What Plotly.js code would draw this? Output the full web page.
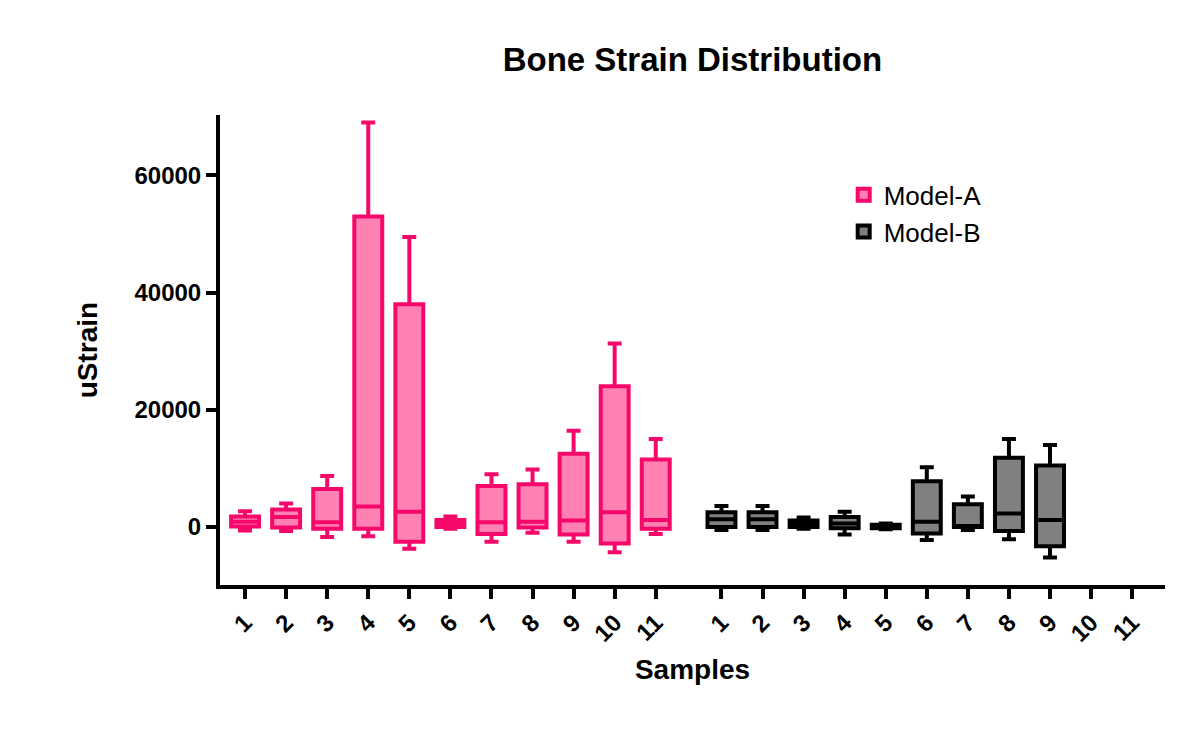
<!DOCTYPE html>
<html>
<head>
<script src="https://cdn.plot.ly/plotly-3.0.1.min.js"></script>
</head>
<body style="margin:0">
<div id="myDiv" style="width:1200px;height:735px;"></div>
<script>
var samples = ['1','2','3','4','5','6','7','8','9','10','11'];

var aLower  = [-600, -700, -1700, -1600, -3700, -300, -2500, -1000, -2500, -4300, -1200];
var aQ1     = [100, -100, -300, -300, -2500, 0, -1200, -100, -1300, -2800, -300];
var aMedian = [900, 1700, 800, 3500, 2600, 700, 800, 900, 1100, 2500, 1200];
var aQ3     = [1800, 3000, 6500, 53000, 38000, 1200, 7000, 7300, 12500, 24000, 11500];
var aUpper  = [2700, 4000, 8700, 69000, 49500, 1800, 9000, 9800, 16400, 31300, 15000];

var bLower  = [-500, -500, -300, -1300, -400, -2200, -500, -2100, -5200];
var bQ1     = [0, 0, 0, -200, -200, -1100, 0, -700, -3300];
var bMedian = [1300, 1300, 600, 600, 0, 900, 0, 2300, 1200];
var bQ3     = [2500, 2500, 1100, 1700, 400, 7800, 3900, 11800, 10500];
var bUpper  = [3600, 3600, 1600, 2600, 600, 10200, 5200, 15000, 14000];

var offsetB = 11.6;
var xA = samples.map(function (s, i) { return i + 1; });
var xB = bQ1.map(function (v, i) { return i + 1 + offsetB; });
var tickPos = xA.concat(samples.map(function (s, i) { return i + 1 + offsetB; }));
var tickText = samples.concat(samples);

var modelA = {
  type: 'box', name: 'Model-A', x: xA,
  lowerfence: aLower, q1: aQ1, median: aMedian, q3: aQ3, upperfence: aUpper,
  width: 0.68, whiskerwidth: 0.5,
  fillcolor: '#ff80b3', line: { color: '#f5086a', width: 4 }
};
var modelB = {
  type: 'box', name: 'Model-B', x: xB,
  lowerfence: bLower, q1: bQ1, median: bMedian, q3: bQ3, upperfence: bUpper,
  width: 0.68, whiskerwidth: 0.5,
  fillcolor: '#808080', line: { color: '#000000', width: 4 }
};

var layout = {
  paper_bgcolor: 'white', plot_bgcolor: 'white',
  margin: { l: 220, r: 35, t: 115, b: 150 },
  font: { family: 'Arial, Liberation Sans, sans-serif', color: '#000' },
  title: {
    text: '<b>Bone Strain Distribution</b>',
    font: { size: 33 }, x: 0.577, xanchor: 'center', y: 0.935
  },
  showlegend: true,
  legend: { x: 0.66, y: 0.88, font: { size: 26 }, bgcolor: 'rgba(0,0,0,0)', tracegroupgap: 25 },
  xaxis: {
    range: [0.39, 23.4], tickvals: tickPos, ticktext: tickText, tickangle: -45,
    showline: true, linewidth: 4, linecolor: '#000', showgrid: false, zeroline: false,
    ticks: 'outside', ticklen: 10, tickwidth: 4, tickcolor: '#000',
    tickfont: { size: 24, weight: 'bold' },
    title: { text: 'Samples', font: { size: 28, weight: 'bold' }, standoff: 15 }
  },
  yaxis: {
    range: [-9900, 70300], tickvals: [0, 20000, 40000, 60000], tickformat: 'd',
    showline: true, linewidth: 4, linecolor: '#000', showgrid: false, zeroline: false,
    ticks: 'outside', ticklen: 10, tickwidth: 4, tickcolor: '#000',
    tickfont: { size: 24, weight: 'bold' },
    title: { text: 'uStrain', font: { size: 28, weight: 'bold' }, standoff: 30 }
  }
};

Plotly.newPlot('myDiv', [modelA, modelB], layout, { displayModeBar: false });
</script>
</body>
</html>
